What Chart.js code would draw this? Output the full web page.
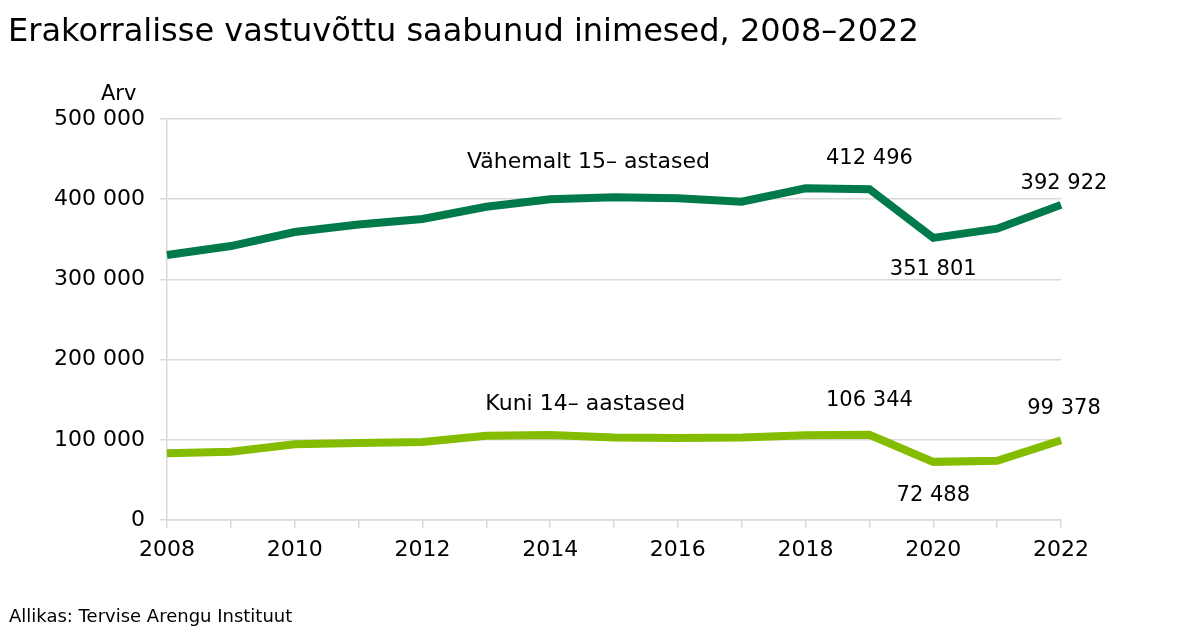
<!DOCTYPE html>
<html>
<head>
<meta charset="utf-8">
<script src="https://cdn.jsdelivr.net/npm/chart.js@4/dist/chart.umd.min.js"></script>
<style>
  html, body { margin: 0; padding: 0; background: #fff; }
  #wrap { width: 1200px; height: 640px; position: relative; }
</style>
</head>
<body>
<div id="wrap"><canvas id="erakorr"></canvas></div>
<script>
// Erakorralisse vastuvõttu saabunud inimesed, 2008–2022

var years = ['2008', '2009', '2010', '2011', '2012', '2013', '2014', '2015',
             '2016', '2017', '2018', '2019', '2020', '2021', '2022'];
var adults = [330400, 341600, 359100, 368400, 375300, 390600, 399900, 402400,
              401100, 396900, 413600, 412496, 351801, 363200, 392922];
var kids = [83200, 85200, 94400, 96000, 97300, 105100, 106000, 102900,
            102100, 102900, 105600, 106344, 72488, 73900, 99378];
var yTicks = [0, 100000, 200000, 300000, 400000, 500000];

var seriesNames = ['Vähemalt 15– astased', 'Kuni 14– aastased'];
// points that get a value label
var adultMarks = [11, 12, 14];
var kidMarks = [11, 12, 14];

var FONT = '"DejaVu Sans", sans-serif';
var DARK = '#007a4b';
var LIGHT = '#84bd00';

function fmt(v) {
    return String(v).replace(/\B(?=(\d{3})+(?!\d))/g, ' ');
}

var textPlugin = {
    id: 'texts',
    afterDraw: function(chart) {
        var ctx = chart.ctx;
        var x = chart.scales.x, y = chart.scales.y;
        ctx.save();
        ctx.fillStyle = '#000';
        ctx.textBaseline = 'middle';

        ctx.font = '32px ' + FONT;
        ctx.textAlign = 'left';
        ctx.fillText('Erakorralisse vastuvõttu saabunud inimesed, 2008–2022', 8, 33);

        ctx.font = '21px ' + FONT;
        ctx.fillText('Arv', 101, 95);

        ctx.font = '18px ' + FONT;
        ctx.fillText('Allikas: Tervise Arengu Instituut', 9, 617);

        ctx.font = '22px ' + FONT;
        ctx.textAlign = 'center';
        ctx.fillText(seriesNames[0], x.getPixelForValue(6.6), y.getPixelForValue(adults[6]) - 37);
        ctx.fillText(seriesNames[1], x.getPixelForValue(6.55), y.getPixelForValue(kids[6]) - 31);

        // label offsets: above peak, below dip, end of line
        ctx.font = '21px ' + FONT;
        var adultDy = [-31, 32, -21];
        var kidDy = [-34, 34, -32];
        function marks(list, data, dys) {
            list.forEach(function(i, k) {
                var px = x.getPixelForValue(i);
                if (i === data.length - 1) px += 3;
                ctx.fillText(fmt(data[i]), px, y.getPixelForValue(data[i]) + dys[k]);
            });
        }
        marks(adultMarks, adults, adultDy);
        marks(kidMarks, kids, kidDy);
        ctx.restore();
    }
};

var chart = new Chart(document.getElementById('erakorr'), {
    type: 'line',
    data: {
        labels: years,
        datasets: [{
            label: seriesNames[0],
            data: adults,
            borderColor: DARK,
            borderWidth: 8,
            pointRadius: 0,
            tension: 0,
            fill: false
        }, {
            label: seriesNames[1],
            data: kids,
            borderColor: LIGHT,
            borderWidth: 8,
            pointRadius: 0,
            tension: 0,
            fill: false
        }]
    },
    options: {
        responsive: true,
        maintainAspectRatio: false,
        animation: false,
        layout: { padding: { top: 119, right: 139, bottom: 0, left: 0 } },
        plugins: {
            legend: { display: false },
            tooltip: { enabled: false }
        },
        scales: {
            x: {
                offset: false,
                afterFit: function(s) { s.height = 120; },
                grid: {
                    drawOnChartArea: false,
                    drawTicks: true,
                    tickLength: 8,
                    color: '#d9d9d9',
                    lineWidth: 1.5
                },
                border: { color: '#d9d9d9', width: 1.5 },
                ticks: {
                    autoSkip: false,
                    maxRotation: 0,
                    padding: 9,
                    color: '#000',
                    font: { family: FONT, size: 22 },
                    callback: function(v, i) { return i % 2 === 0 ? years[i] : ''; }
                }
            },
            y: {
                min: 0,
                max: 500000,
                afterFit: function(s) { s.width = 167; },
                afterBuildTicks: function(s) {
                    s.ticks = yTicks.map(function(v) { return { value: v }; });
                },
                grid: {
                    color: '#d9d9d9',
                    lineWidth: 1.5,
                    tickLength: 7
                },
                border: { display: true, color: '#d9d9d9', width: 1.5 },
                ticks: {
                    padding: 15,
                    color: '#000',
                    font: { family: FONT, size: 22 },
                    callback: function(v) { return fmt(v); }
                }
            }
        }
    },
    plugins: [textPlugin]
});
</script>
</body>
</html>
